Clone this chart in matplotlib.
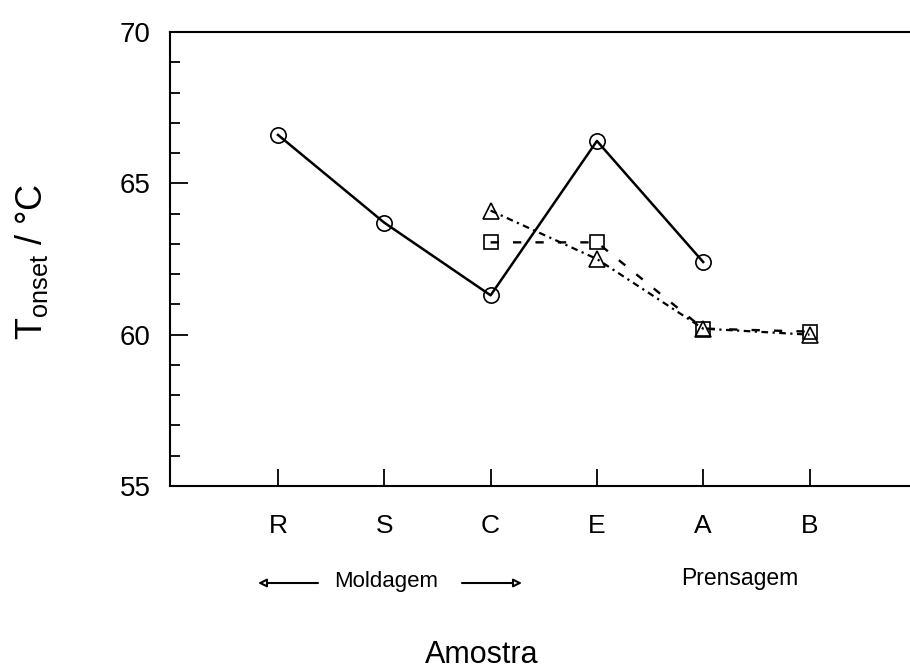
import matplotlib
matplotlib.use("Agg")
import matplotlib.pyplot as plt
from matplotlib.ticker import MultipleLocator

plt.rcParams['font.family'] = ['Liberation Sans', 'DejaVu Sans']
plt.rcParams['mathtext.fontset'] = 'custom'
plt.rcParams['mathtext.rm'] = 'Liberation Sans'
plt.rcParams['mathtext.it'] = 'Liberation Sans'

# ---- data ----
categories = ["R", "S", "C", "E", "A", "B"]
circle_cats = ["R", "S", "C", "E", "A"]
circle_vals = [66.6, 63.7, 61.3, 66.4, 62.4]
triangle_cats = ["C", "E", "A", "B"]
triangle_vals = [64.1, 62.5, 60.2, 60.0]
square_cats = ["C", "E", "A", "B"]
square_vals = [63.05, 63.05, 60.2, 60.1]
ylabel_text = "T$_{\\rm onset}$ / °C"
xlabel_text = "Amostra"
group_left = "Moldagem"
group_right = "Prensagem"

pos = {c: i + 1 for i, c in enumerate(categories)}

W, H = 910, 672
fig = plt.figure(figsize=(W / 100, H / 100), dpi=100)
ax = fig.add_axes([170 / W, (H - 486) / H, (W - 170) / W, (486 - 32) / H])

ax.plot([pos[c] for c in circle_cats], circle_vals, color='black', lw=1.8,
        ls='-', marker='o', ms=11, mfc='none', mec='black', mew=1.2, zorder=3)
ax.plot([pos[c] for c in square_cats], square_vals, color='black', lw=1.7,
        ls=(0, (3.5, 6)), marker='s', ms=10, mfc='none', mec='black', mew=1.2, zorder=2)
ax.plot([pos[c] for c in triangle_cats], triangle_vals, color='black', lw=1.6,
        ls=(0, (3, 2, 1, 2)), marker='^', ms=11, mfc='none', mec='black', mew=1.2, zorder=2)

ax.set_xlim(1 - 108 / 106.3, 1 + (W - 278) / 106.3)
ax.set_ylim(55, 70)
ax.set_xticks([pos[c] for c in categories])
ax.set_xticklabels(categories)
ax.yaxis.set_major_locator(MultipleLocator(5))
ax.yaxis.set_minor_locator(MultipleLocator(1))

ax.tick_params(axis='y', which='major', direction='in', length=13, width=1.3,
               labelsize=20, pad=14)
ax.tick_params(axis='y', which='minor', direction='in', length=7, width=1.3)
ax.tick_params(axis='x', which='major', direction='in', length=12, width=1.3,
               labelsize=19, pad=20)
ax.spines['right'].set_visible(False)
for s in ['left', 'top', 'bottom']:
    ax.spines[s].set_linewidth(1.5)

# y label
fig.text(32 / W, 1 - 262 / H, ylabel_text, rotation=90, ha='center', va='center',
         fontsize=26)

# group annotations
fig.text(386 / W, 1 - 581 / H, group_left, ha='center', va='center', fontsize=16)
fig.text(740 / W, 1 - 578 / H, group_right, ha='center', va='center', fontsize=16.5)
arrowprops = dict(arrowstyle='-|>', color='black', lw=1.5, mutation_scale=12,
                  shrinkA=0, shrinkB=0, fc='white')
fig.add_artist(matplotlib.patches.FancyArrowPatch(
    (318 / W, 1 - 583 / H), (258 / W, 1 - 583 / H), transform=fig.transFigure,
    **arrowprops))
fig.add_artist(matplotlib.patches.FancyArrowPatch(
    (462 / W, 1 - 583 / H), (522 / W, 1 - 583 / H), transform=fig.transFigure,
    **arrowprops))

# x label
fig.text(482 / W, 1 - 655 / H, xlabel_text, ha='center', va='center', fontsize=22)

fig.savefig("out.png", dpi=100)
